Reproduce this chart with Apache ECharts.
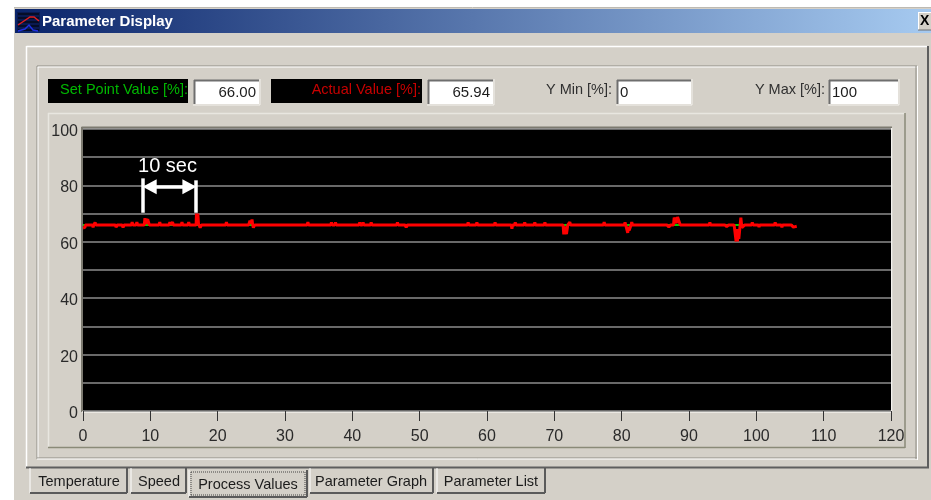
<!DOCTYPE html>
<html>
<head>
<meta charset="utf-8">
<style>html,body{margin:0;padding:0;background:#fff}#c{width:931px;height:500px}</style>
<script src="https://cdn.jsdelivr.net/npm/echarts@6/dist/echarts.min.js"></script>
</head>
<body>
<div id="c"></div>
<script>
// ---- chart data (time in seconds, value in %) ----
const windowTitle = 'Parameter Display';
const tabLabels = ['Temperature', 'Speed', 'Process Values', 'Parameter Graph', 'Parameter List'];
const setPointReadout = '66.00';
const actualReadout = '65.94';
const yMinReadout = '0';
const yMaxReadout = '100';
const setPointTime = [0, 105.4];
const setPointValue = [66, 66];
const actualTime = [
  0, 0.3, 0.35, 1.4, 1.5, 1.6, 1.7, 1.8, 1.9, 4.8, 4.9, 5.1, 5.8, 5.95, 6.1, 7.2, 7.3, 7.4, 7.9, 8, 8.1,
  9.1, 9.2, 9.3, 9.4, 9.5, 9.6, 9.85, 11.3, 11.4, 11.5, 12.8, 12.9, 13, 13.2, 13.3, 13.4, 14.6, 14.7, 14.8, 15.6, 15.7, 15.8,
  16.8, 16.85, 16.95, 17.05, 17.15, 17.25, 17.4, 17.6, 21.2, 21.3, 21.4, 24.6, 24.8, 24.95, 25.1, 25.2, 25.3, 25.5,
  33.3, 33.4, 33.5, 36.8, 36.9, 37, 37.4, 37.5, 37.6, 41, 41.1, 41.2, 41.5, 41.6, 41.7, 42.7, 42.8, 42.9,
  46.6, 46.7, 46.8, 47.8, 48, 48.2, 55.5, 55.7, 55.9, 57.1, 57.2, 57.3, 58.4, 58.5, 58.6, 61.1, 61.2, 61.3,
  63.6, 63.7, 63.8, 64.1, 64.2, 64.3, 65.5, 65.6, 65.7, 67, 67.1, 67.2, 68.5, 68.6, 68.7,
  71.3, 71.4, 71.5, 71.6, 71.7, 71.8, 72, 72.2, 72.3, 72.4, 77.3, 77.4, 77.5, 80.4, 80.5, 80.6, 80.8, 80.9, 81, 81.1, 81.4, 81.5, 81.6,
  86.7, 87, 87.3, 87.7, 87.8, 88, 88.1, 88.3, 88.4, 88.7, 88.9, 89.1, 93, 93.1, 93.2,
  95.3, 95.6, 95.9, 96.7, 96.9, 97, 97.1, 97.2, 97.3, 97.4, 97.6, 97.7, 97.85, 98.1, 98.3,
  99.3, 99.4, 99.5, 100.3, 100.4, 100.5, 102.7, 102.8, 102.9, 103.7, 103.8, 103.9, 105.2, 105.5, 106
];
const actualValue = [
  64.9, 65.1, 66, 66, 65.1, 66, 66, 66.9, 66, 66, 65.2, 66, 66, 65.1, 66, 66, 67, 66, 66, 67, 66,
  66, 68.4, 66.3, 68.2, 66.3, 68, 66, 66, 67, 66, 66, 67, 66, 66, 67, 66, 66, 67, 66, 66, 67, 66,
  66, 70, 66.4, 70, 66.4, 66, 65, 66, 66, 67, 66, 66, 67.5, 66.5, 67.9, 66, 65, 66,
  66, 67, 66, 66, 66.9, 66, 66, 66.9, 66, 66, 66.9, 66, 66, 66.9, 66, 66, 66.9, 66,
  66, 66.9, 66, 66, 65.2, 66, 66, 65.3, 66, 66, 66.9, 66, 66, 66.9, 66, 66, 66.9, 66,
  66, 64.6, 66, 66, 66.9, 66, 66, 66.9, 66, 66, 66.9, 66, 66, 66.9, 66,
  66, 62.6, 65.5, 62.6, 65.5, 62.8, 66, 66, 67, 66, 66, 67, 66, 66, 66.9, 66, 66, 63.2, 65.4, 64, 66, 67, 66,
  66, 65.3, 66, 66, 68.6, 68.8, 66.6, 68.8, 68.4, 66, 65.3, 66, 66, 66.9, 66,
  66, 65.4, 66, 66, 65.5, 60.1, 64.5, 60.1, 64.5, 61, 66, 68.6, 65, 64.6, 66,
  66, 66.9, 66, 66, 65.2, 66, 66, 66.9, 66, 66, 65.1, 66, 66, 65.2, 65.5
];
const xTickLabels = [0, 10, 20, 30, 40, 50, 60, 70, 80, 90, 100, 110, 120];
const yTickLabels = [0, 20, 40, 60, 80, 100];
const spanLabel = '10 sec';
const spanStart = 8.9;
const spanEnd = 16.8;
const spanTopStart = 82.5;
const spanTopEnd = 81.8;
const spanBottom = 70.3;
const spanArrowLevel = 79.5;
const arrowInset = 1;

// ---- window chrome (not data) ----
const FF = '"Liberation Sans", Arial, sans-serif';
const GRAY = '#d4d0c8';
function rect(x, y, w, h, fill, z) { return {type:'rect', shape:{x, y, width:w, height:h}, style:{fill}, z: z == null ? -5 : z, silent:true}; }
function line(x1, y1, x2, y2, stroke, lw, dash, z) { return {type:'line', shape:{x1, y1, x2, y2}, style:{stroke, lineWidth:lw || 1, lineDash:dash || null}, z: z == null ? -4 : z, silent:true}; }
function text(t, x, y, fill, font, align) { return {type:'text', style:{text:t, x, y, fill, font, textAlign:align || 'left', textVerticalAlign:'middle'}, z:5, silent:true}; }
function poly(points, stroke, lw) { return {type:'polyline', shape:{points}, style:{stroke, lineWidth:lw, fill:null}, z:5, silent:true}; }
function sunken(x, y, w, h) {
  return [rect(x, y, w, h, '#ffffff', -3), line(x, y + 0.5, x + w, y + 0.5, '#6e6e6e', 2, null, -2), line(x + 0.5, y, x + 0.5, y + h, '#6e6e6e', 2, null, -2),
          line(x - 1, y + h + 1, x + w + 1, y + h + 1, '#f4f2ee', 1, null, -2), line(x + w + 1, y - 1, x + w + 1, y + h + 1, '#f4f2ee', 1, null, -2)];
}
function tab(x, y, w, h, label, tx, ty, selected) {
  const parts = [
    line(x, y, x, y + h, '#ffffff', 1), line(x, y + h, x + w, y + h, '#5a5a5a', 2), line(x + w, y, x + w, y + h, '#5a5a5a', 2),
    text(label, tx, ty, '#1c1c1c', '14.5px ' + FF, 'center')
  ];
  if (selected) {
    parts.push(line(x + 2, y + 2, x + w - 2, y + 2, '#444', 1, [1, 1]), line(x + 2, y + h - 2, x + w - 2, y + h - 2, '#444', 1, [1, 1]),
               line(x + 2, y + 2, x + 2, y + h - 2, '#444', 1, [1, 1]), line(x + w - 2, y + 2, x + w - 2, y + h - 2, '#444', 1, [1, 1]));
  }
  return parts;
}
const chrome = [
  rect(14, 8, 917, 492, GRAY, -6),
  line(14, 7.5, 931, 7.5, '#bdbab3', 1),
  {type:'rect', shape:{x:15, y:9, width:916, height:24}, silent:true, z:-5,
   style:{fill:new echarts.graphic.LinearGradient(0, 0, 1, 0, [{offset:0, color:'#0a246a'}, {offset:1, color:'#a6caf0'}])}},
  text(windowTitle, 42, 21.5, '#ffffff', 'bold 15px ' + FF),
  // title icon
  rect(17, 12, 23, 19, '#0a1a50', 4),
  line(18, 14, 39, 14, '#000', 1, null, 5), line(18, 18, 39, 18, '#000', 1, null, 5), line(18, 22, 39, 22, '#000', 1, null, 5), line(18, 26, 39, 26, '#000', 1, null, 5), line(18, 30, 39, 30, '#000', 1, null, 5),
  poly([[18, 25], [24, 21], [30, 17], [34, 17], [39, 21]], '#e02020', 1.5),
  poly([[18, 31], [25, 29], [29, 25], [33, 30], [38, 31]], '#2030e0', 1.5),
  // close button
  rect(918, 12, 13, 18, GRAY, -3), line(918, 12.5, 931, 12.5, '#fff', 1, null, -2), line(918.5, 12, 918.5, 30, '#fff', 1, null, -2), line(918, 30, 931, 30, '#6e6e6e', 1, null, -2),
  text('X', 920, 21.5, '#000', 'bold 14px ' + FF),
  // tab page frame
  line(26.5, 46.5, 927, 46.5, '#ffffff', 1.5), line(26.5, 46, 26.5, 468, '#ffffff', 1.5),
  line(928, 46, 928, 467.5, '#5e5e5e', 2), line(26, 467.5, 929, 467.5, '#5e5e5e', 2),
  // group box
  line(37, 66, 917, 66, '#8e8c84', 1), line(37, 67, 917, 67, '#ffffff', 1),
  line(37, 66, 37, 459, '#8e8c84', 1), line(38, 67, 38, 458, '#ffffff', 1),
  line(37, 458, 917, 458, '#8e8c84', 1), line(37, 459, 918, 459, '#ffffff', 1),
  line(916, 66, 916, 459, '#8e8c84', 1), line(917.5, 66, 917.5, 460, '#ffffff', 1),
  // plot panel
  line(48, 113.5, 905, 113.5, '#e8e6e0', 1.5), line(48.5, 113, 48.5, 447, '#e8e6e0', 1.5),
  line(905, 113, 905, 448, '#8a8a78', 1.5), line(48, 447.5, 905, 447.5, '#8a8a78', 1.5),
  // readouts
  rect(48, 79, 140, 24, '#000', -3), rect(271, 79, 151, 24, '#000', -3),
  text('Set Point Value [%]:', 188, 89.5, '#00b800', '14.5px ' + FF, 'right'),
  text('Actual Value [%]:', 421, 89.5, '#c80000', '14.5px ' + FF, 'right'),
  text('Y Min [%]:', 612, 89.5, '#303030', '14.5px ' + FF, 'right'),
  text('Y Max [%]:', 825, 89.5, '#303030', '14.5px ' + FF, 'right'),
  ...sunken(194, 80, 65, 24), ...sunken(428, 80, 65, 24), ...sunken(617, 80, 74, 24), ...sunken(829, 80, 69, 24),
  text(setPointReadout, 256, 93, '#1c1c1c', '15px ' + FF, 'right'),
  text(actualReadout, 490, 93, '#1c1c1c', '15px ' + FF, 'right'),
  text(yMinReadout, 620, 93, '#1c1c1c', '15px ' + FF),
  text(yMaxReadout, 832, 93, '#1c1c1c', '15px ' + FF),
  // plot border
  line(81.5, 127.5, 892, 127.5, '#7c7a70', 2, null, -2), line(82, 127, 82, 412, '#7c7a70', 2, null, -2),
  line(82, 412, 892, 412, '#f4f2ee', 1.5, null, -2), line(891.5, 128, 891.5, 412, '#f4f2ee', 1.5, null, -2),
  // tabs
  ...tab(30, 468, 97, 25, tabLabels[0], 79, 481.5),
  ...tab(131, 468, 55, 25, tabLabels[1], 159, 481.5),
  ...tab(189, 470, 118, 27, tabLabels[2], 248, 484.5, true),
  ...tab(310, 468, 123, 25, tabLabels[3], 371, 481.5),
  ...tab(437, 468, 108, 25, tabLabels[4], 491, 481.5)
];

const chart = echarts.init(document.getElementById('c'), null, {renderer:'canvas'});
chart.setOption({
  animation: false,
  backgroundColor: '#ffffff',
  graphic: {elements: chrome},
  grid: {left:83, top:129, width:808, height:282, show:true, backgroundColor:'#000000', borderWidth:0, containLabel:false},
  xAxis: {
    type:'value', min:0, max:120, interval:10, offset:2,
    axisLine:{show:false},
    axisTick:{show:true, length:10, lineStyle:{color:'#333333', width:1}},
    axisLabel:{color:'#2a2a2a', fontFamily:FF, fontSize:16, margin:16, showMinLabel:true, showMaxLabel:true,
      formatter:v => xTickLabels.includes(v) ? String(v) : ''},
    splitLine:{show:false}
  },
  yAxis: {
    type:'value', min:0, max:100, interval:10,
    axisLine:{show:false}, axisTick:{show:false},
    axisLabel:{margin:5, showMinLabel:true, showMaxLabel:true,
      formatter:v => yTickLabels.includes(v) ? '{v|' + v + '}' : '',
      rich:{v:{color:'#2a2a2a', fontFamily:FF, fontSize:16, padding:[5, 0, 0, 0]}}},
    splitLine:{show:true, lineStyle:{color:'#8c8c8c', width:1.5}}
  },
  series: [
    {name:'Set Point Value', type:'line', showSymbol:false, silent:true, z:3,
     data:setPointTime.map((t, i) => [t, setPointValue[i]]),
     lineStyle:{color:'#00d000', width:2}},
    {name:'Actual Value', type:'line', showSymbol:false, silent:true, z:4, sampling:null,
     data:actualTime.map((t, i) => [t, actualValue[i]]),
     lineStyle:{color:'#ff0000', width:3, join:'bevel', cap:'butt'}},
    {name:'Span', type:'line', showSymbol:false, silent:true, z:6, data:[],
     markLine:{silent:true, animation:false, precision:2,
       data:[
         [{coord:[spanStart, spanTopStart], symbol:'none', lineStyle:{color:'#fff', width:3.5, type:'solid'}, label:{show:false}},
          {coord:[spanStart, spanBottom], symbol:'none'}],
         [{coord:[spanEnd, spanTopEnd], symbol:'none', lineStyle:{color:'#fff', width:3.5, type:'solid'}, label:{show:false}},
          {coord:[spanEnd, spanBottom], symbol:'none'}],
         [{coord:[spanStart + arrowInset, spanArrowLevel], symbol:'triangle', symbolSize:[15, 14], lineStyle:{color:'#fff', width:3.5, type:'solid'},
           label:{show:true, formatter:spanLabel, position:'middle', distance:10, offset:[-2, 0], color:'#fff', fontFamily:FF, fontSize:20}},
          {coord:[spanEnd - arrowInset, spanArrowLevel], symbol:'triangle', symbolSize:[15, 14]}]
       ]}}
  ]
});
</script>
</body>
</html>
